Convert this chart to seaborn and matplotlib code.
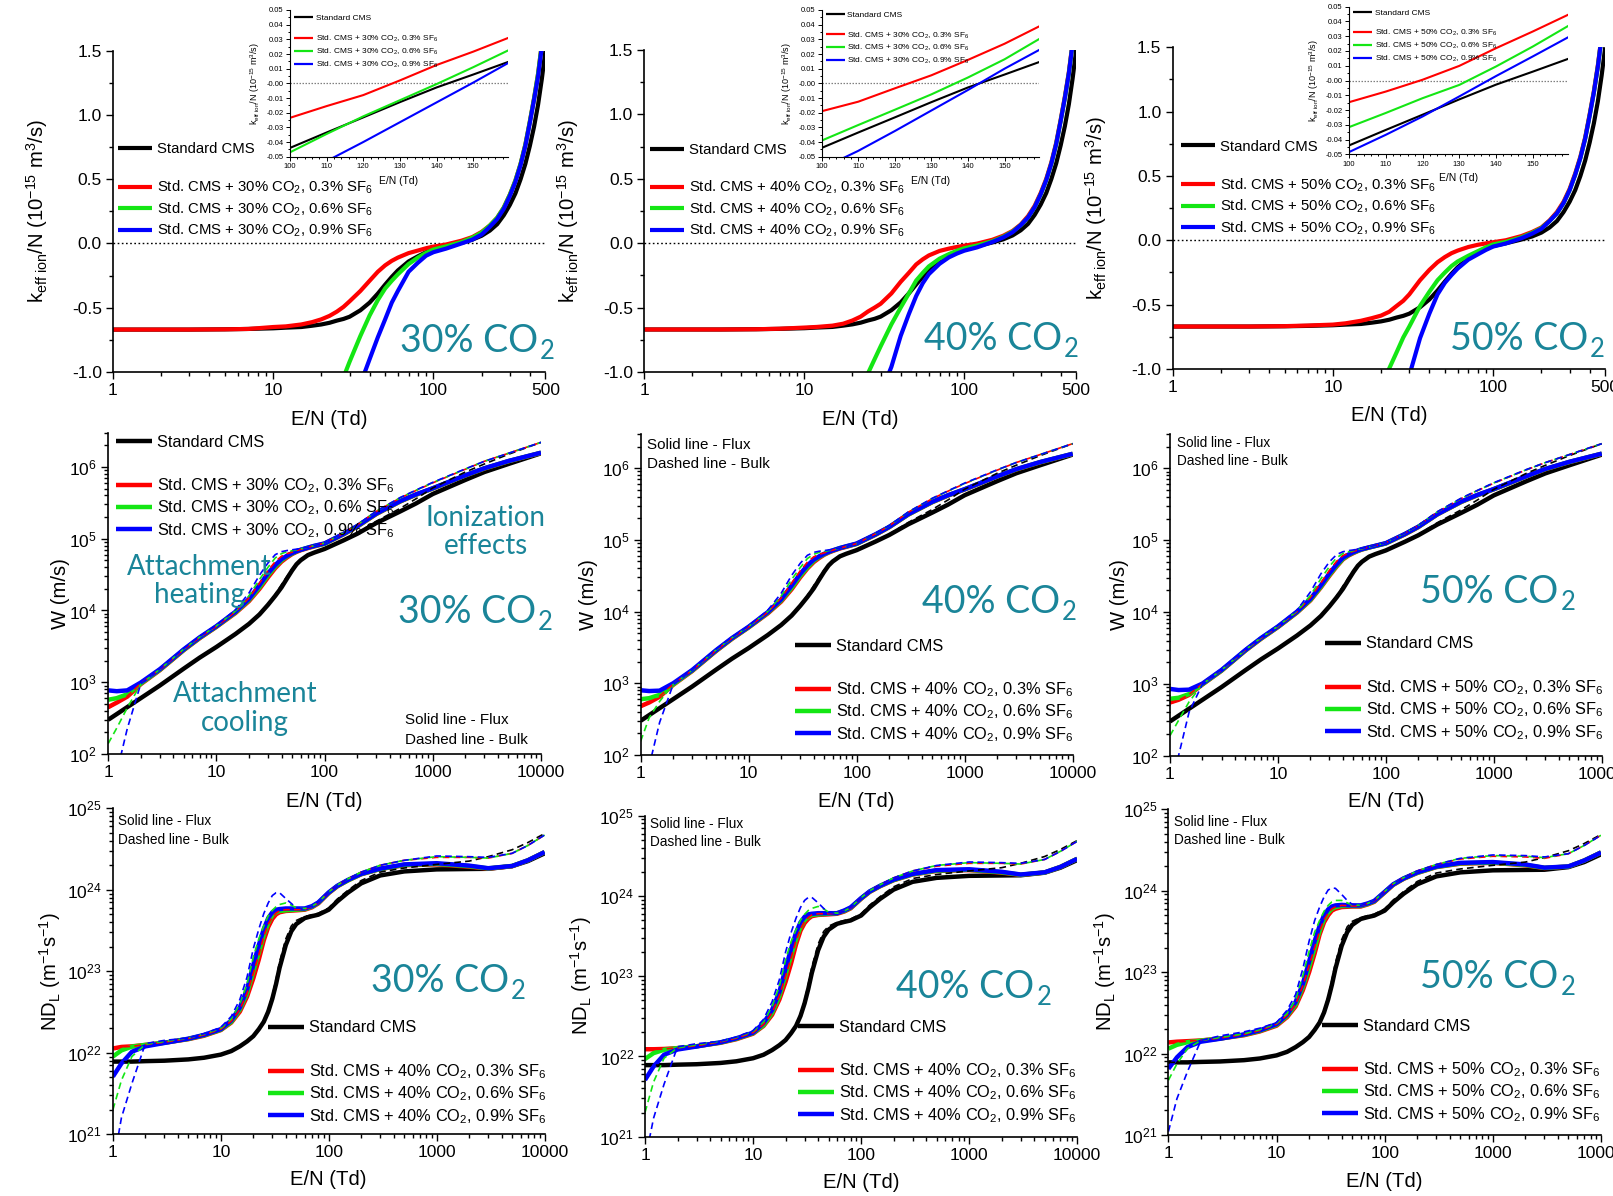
import numpy as np
import matplotlib
matplotlib.use("Agg")
import matplotlib.pyplot as plt
import seaborn as sns
from matplotlib.lines import Line2D
from matplotlib.text import Annotation
from matplotlib.ticker import MultipleLocator, FormatStrFormatter, LogLocator, NullFormatter

nan = np.nan

# ---------------------------------------------------------------- data
# effective ionisation rate coefficient k_eff/N (1e-15 m^3/s) vs E/N (Td)
EN_K = [1, 3, 5, 7, 10, 12, 15, 17.5, 20, 22.5, 25, 27.5, 30, 35, 40, 45, 50, 55, 60, 70,
        80, 90, 100, 120, 150, 175, 200, 225, 250, 275, 300, 325, 350, 375, 400, 425, 450, 475, 500]
std_k = [-0.67, -0.67, -0.668, -0.665, -0.66, -0.655, -0.65, -0.64, -0.63, -0.617,
         -0.60, -0.587, -0.57, -0.52, -0.46, -0.39, -0.32, -0.26, -0.21, -0.14,
         -0.10, -0.068, -0.044, -0.023, 0.006, 0.03, 0.06, 0.10, 0.15, 0.22,
         0.30, 0.39, 0.50, 0.62, 0.76, 0.91, 1.08, 1.28, 1.50]
k30_red = [-0.67, -0.67, -0.668, -0.665, -0.65, -0.645, -0.63, -0.612, -0.59, -0.563,
           -0.53, -0.493, -0.45, -0.37, -0.29, -0.22, -0.17, -0.135, -0.11, -0.075,
           -0.055, -0.037, -0.024, -0.008, 0.022, 0.05, 0.09, 0.14, 0.20, 0.28,
           0.38, 0.49, 0.62, 0.77, 0.95, 1.13, 1.32, 1.55, 1.80]
k30_green = [nan, nan, nan, nan, nan, nan, nan, nan, -1.5, -1.33,
             -1.18, -1.04, -0.92, -0.72, -0.56, -0.44, -0.35, -0.29, -0.24, -0.16,
             -0.11, -0.073, -0.047, -0.0225, 0.011, 0.045, 0.085, 0.14, 0.20, 0.28,
             0.38, 0.49, 0.62, 0.77, 0.95, 1.13, 1.32, 1.55, 1.80]
k30_blue = [nan, nan, nan, nan, nan, nan, nan, nan, nan, nan,
            -1.58, -1.44, -1.32, -1.095, -0.90, -0.73, -0.59, -0.46, -0.37, -0.22,
            -0.15, -0.095, -0.068, -0.040, 0.0005, 0.03, 0.07, 0.13, 0.19, 0.27,
            0.37, 0.48, 0.61, 0.76, 0.94, 1.12, 1.30, 1.53, 1.78]
k40_red = [-0.67, -0.67, -0.668, -0.664, -0.655, -0.65, -0.64, -0.625, -0.60, -0.57,
           -0.53, -0.50, -0.47, -0.39, -0.30, -0.23, -0.165, -0.125, -0.095, -0.060,
           -0.042, -0.029, -0.019, -0.0034, 0.027, 0.058, 0.095, 0.145, 0.21, 0.29,
           0.39, 0.50, 0.63, 0.78, 0.96, 1.14, 1.33, 1.56, 1.82]
k40_green = [nan, nan, nan, nan, nan, nan, nan, nan, -1.35, -1.16,
             -1.01, -0.90, -0.80, -0.63, -0.50, -0.39, -0.29, -0.23, -0.18, -0.12,
             -0.085, -0.058, -0.039, -0.018, 0.016, 0.05, 0.09, 0.14, 0.20, 0.28,
             0.38, 0.49, 0.62, 0.77, 0.95, 1.13, 1.32, 1.55, 1.80]
k40_blue = [nan, nan, nan, nan, nan, nan, nan, nan, nan, nan,
            -1.45, -1.30, -1.17, -0.96, -0.72, -0.55, -0.41, -0.31, -0.24, -0.16,
            -0.11, -0.08, -0.058, -0.0325, 0.010, 0.045, 0.085, 0.14, 0.20, 0.28,
            0.38, 0.49, 0.62, 0.77, 0.95, 1.13, 1.32, 1.55, 1.80]
k50_red = [-0.67, -0.67, -0.667, -0.662, -0.655, -0.645, -0.625, -0.605, -0.585, -0.555,
           -0.51, -0.47, -0.42, -0.31, -0.23, -0.17, -0.13, -0.10, -0.08, -0.052,
           -0.035, -0.024, -0.0147, 0.0005, 0.033, 0.065, 0.10, 0.155, 0.22, 0.30,
           0.40, 0.52, 0.65, 0.80, 0.98, 1.16, 1.36, 1.59, 1.85]
k50_green = [nan, nan, nan, nan, nan, nan, nan, nan, -1.13, -0.995,
             -0.87, -0.755, -0.67, -0.51, -0.40, -0.31, -0.25, -0.20, -0.165, -0.12,
             -0.085, -0.055, -0.032, -0.012, 0.023, 0.058, 0.095, 0.15, 0.21, 0.29,
             0.39, 0.51, 0.64, 0.79, 0.97, 1.15, 1.35, 1.58, 1.84]
k50_blue = [nan, nan, nan, nan, nan, nan, nan, nan, nan, nan,
            -1.38, -1.21, -1.05, -0.76, -0.57, -0.42, -0.33, -0.27, -0.22, -0.15,
            -0.11, -0.075, -0.0485, -0.0244, 0.0163, 0.052, 0.09, 0.15, 0.21, 0.29,
            0.39, 0.51, 0.64, 0.79, 0.97, 1.15, 1.35, 1.58, 1.84]

# zoom on the zero crossing, 100-160 Td
EN_IN = [100, 110, 120, 130, 140, 150, 160]
std_in = [-0.044, -0.0335, -0.0232, -0.0128, -0.0028, 0.0060, 0.0150]
in30_red = [-0.0235, -0.0155, -0.0080, 0.0020, 0.0125, 0.0216, 0.0314]
in30_green = [-0.047, -0.0345, -0.0225, -0.0115, -0.0005, 0.011, 0.023]
in30_blue = [-0.064, -0.053, -0.040, -0.0265, -0.013, 0.0005, 0.0145]
in40_red = [-0.019, -0.0125, -0.0034, 0.0055, 0.016, 0.027, 0.0395]
in40_green = [-0.039, -0.0284, -0.018, -0.0075, 0.004, 0.0164, 0.031]
in40_blue = [-0.058, -0.046, -0.0325, -0.0185, -0.0045, 0.0100, 0.0235]
in50_red = [-0.0147, -0.0075, 0.0005, 0.0099, 0.0219, 0.0332, 0.045]
in50_green = [-0.0316, -0.022, -0.012, -0.003, 0.0095, 0.023, 0.0375]
in50_blue = [-0.0485, -0.0368, -0.0244, -0.0108, 0.003, 0.0163, 0.0298]

# drift velocity W (m/s), flux (solid) and bulk (dashed)
EN_W = [1, 1.2, 1.5, 2, 3, 5, 7, 10, 15, 20, 25, 30, 35, 40, 45, 50, 55, 60, 70, 80,
        100, 150, 200, 300, 500, 700, 1000, 2000, 3000, 5000, 10000]
std_w = [300, 360, 450, 600, 900, 1550, 2200, 3100, 4700, 6500,
         8800, 12000, 16000, 21000, 28000, 36000, 44000, 50000, 59000, 64000,
         72000, 95000, 117000, 165000, 240000, 310000, 420000, 660000, 850000, 1100000, 1550000]
std_wb = [300, 360, 450, 600, 900, 1550, 2200, 3100, 4700, 6500,
          8900, 12300, 16800, 23000, 30000, 38000, 45000, 51000, 60000, 65000,
          73000, 97000, 120000, 175000, 265000, 360000, 510000, 850000, 1100000, 1500000, 2200000]
w30_red = [450, 520, 630, 940, 1470, 2800, 4100, 5900, 9200, 13500,
           20000, 29000, 39000, 48000, 55000, 61000, 65500, 69000, 74000, 78000,
           85000, 115000, 147000, 220000, 330000, 410000, 500000, 760000, 950000, 1200000, 1570000]
w30_green = [570, 600, 680, 960, 1490, 2830, 4150, 5960, 9400, 14000,
             21000, 31000, 41000, 50000, 57000, 62000, 66500, 70000, 75000, 79000,
             85000, 116000, 148000, 222000, 332000, 412000, 502000, 762000, 955000, 1205000, 1575000]
w30_blue = [770, 750, 770, 990, 1520, 2880, 4220, 6050, 9600, 14500,
            22500, 33000, 43000, 52000, 58000, 63000, 67000, 70000, 75000, 79500,
            86000, 117000, 150000, 224000, 335000, 415000, 505000, 765000, 960000, 1210000, 1580000]
w30_red_b = [430, 510, 640, 960, 1500, 2850, 4200, 6000, 9600, 15000,
             24000, 36000, 48000, 57000, 62000, 65000, 68000, 71000, 76000, 80000,
             87000, 120000, 155000, 240000, 370000, 470000, 600000, 930000, 1200000, 1550000, 2200000]
w30_green_b = [140, 230, 440, 940, 1510, 2900, 4250, 6100, 9800, 16000,
               27000, 40000, 54000, 62000, 66000, 68000, 70000, 72000, 76000, 80000,
               87000, 120000, 155000, 241000, 372000, 473000, 605000, 935000, 1200000, 1550000, 2200000]
w30_blue_b = [17, 55, 225, 950, 1530, 2950, 4330, 6200, 10200, 17500,
              31000, 46000, 60000, 66000, 68500, 70000, 71500, 73000, 76000, 80000,
              87000, 121000, 156000, 242000, 375000, 476000, 610000, 940000, 1200000, 1550000, 2200000]
w40_red = [480, 540, 650, 950, 1480, 2820, 4150, 6000, 9400, 13800,
           20500, 30000, 40000, 49000, 56000, 62000, 66500, 70000, 76000, 80000,
           88000, 118000, 150000, 225000, 335000, 415000, 505000, 765000, 960000, 1210000, 1580000]
w40_green = [600, 620, 690, 965, 1500, 2850, 4200, 6050, 9600, 14300,
             21500, 31500, 41500, 51000, 58000, 63000, 67500, 71000, 77000, 81000,
             88000, 119000, 151000, 226000, 337000, 418000, 508000, 768000, 965000, 1215000, 1585000]
w40_blue = [800, 780, 790, 1000, 1530, 2900, 4270, 6150, 9800, 14800,
            23000, 33500, 44000, 53000, 59000, 64000, 68000, 71500, 77000, 81500,
            89000, 120000, 152000, 228000, 340000, 420000, 510000, 770000, 970000, 1220000, 1590000]
w40_red_b = [460, 530, 660, 970, 1510, 2870, 4250, 6100, 9800, 15500,
             25000, 37000, 49000, 58000, 63000, 66000, 69000, 72000, 77000, 81000,
             89000, 122000, 157000, 243000, 375000, 478000, 610000, 940000, 1200000, 1550000, 2200000]
w40_green_b = [155, 330, 560, 960, 1520, 2920, 4300, 6200, 10000, 16500,
               28000, 41000, 55000, 63000, 67000, 69000, 71000, 73000, 77000, 81000,
               89000, 122000, 157000, 244000, 378000, 480000, 615000, 945000, 1200000, 1550000, 2200000]
w40_blue_b = [25, 70, 285, 960, 1540, 2980, 4380, 6300, 10400, 18000,
              32000, 47000, 61000, 67000, 69500, 71000, 72500, 74000, 77000, 81000,
              89000, 123000, 158000, 245000, 380000, 483000, 620000, 950000, 1200000, 1550000, 2200000]
w50_red = [550, 600, 700, 980, 1520, 2900, 4250, 6150, 9800, 14500,
           22000, 32000, 43000, 54000, 61000, 66000, 70500, 74000, 79000, 83000,
           90000, 120000, 152000, 228000, 340000, 420000, 510000, 770000, 970000, 1220000, 1590000]
w50_green = [620, 640, 720, 990, 1530, 2920, 4290, 6200, 9900, 14800,
             22500, 33000, 44000, 55000, 62000, 67000, 71000, 74500, 79000, 83000,
             90000, 121000, 153000, 229000, 342000, 422000, 512000, 772000, 975000, 1225000, 1595000]
w50_blue = [850, 820, 830, 1010, 1560, 2960, 4360, 6300, 10100, 15300,
            23500, 34500, 46000, 57000, 63000, 68000, 72000, 75000, 79500, 83500,
            91000, 122000, 154000, 230000, 345000, 425000, 515000, 775000, 980000, 1230000, 1600000]
w50_red_b = [530, 590, 710, 1000, 1550, 2950, 4330, 6250, 10100, 16000,
             25500, 38000, 51000, 61000, 66000, 70000, 73000, 76000, 80000, 84000,
             92000, 125000, 160000, 247000, 380000, 485000, 620000, 950000, 1200000, 1550000, 2200000]
w50_green_b = [190, 310, 560, 990, 1560, 2980, 4400, 6350, 10300, 17000,
               29000, 43000, 57000, 65000, 69000, 71500, 74000, 76000, 80000, 84000,
               92000, 125000, 160000, 248000, 382000, 488000, 625000, 955000, 1200000, 1550000, 2200000]
w50_blue_b = [32, 100, 400, 1000, 1580, 3050, 4480, 6450, 10600, 19000,
              34000, 50000, 63000, 69000, 71500, 73000, 75000, 77000, 80500, 84500,
              92000, 126000, 161000, 249000, 385000, 490000, 630000, 960000, 1200000, 1550000, 2200000]

# longitudinal diffusion ND_L (1/(m s)), flux (solid) and bulk (dashed)
EN_D = [1, 1.2, 1.5, 2, 3, 5, 7, 10, 12.5, 15, 17.5, 20, 22.5, 25, 27.5, 30, 32.5, 35, 40, 45,
        50, 60, 70, 80, 100, 120, 150, 200, 300, 500, 1000, 2000, 3000, 5000, 7000, 10000]
std_d = [7.8e21, 7.8e21, 7.8e21, 7.9e21, 8.0e21, 8.3e21, 8.7e21, 9.5e21, 1.05e22, 1.2e22,
         1.38e22, 1.6e22, 1.95e22, 2.4e22, 3.2e22, 4.6e22, 7.0e22, 1.1e23, 2.1e23, 3.1e23,
         3.8e23, 4.5e23, 4.75e23, 4.95e23, 5.7e23, 7.2e23, 9.2e23, 1.2e24, 1.5e24, 1.68e24,
         1.78e24, 1.8e24, 1.81e24, 1.95e24, 2.25e24, 2.8e24]
std_db = [7.8e21, 7.8e21, 7.8e21, 7.9e21, 8.0e21, 8.3e21, 8.7e21, 9.5e21, 1.05e22, 1.2e22,
          1.38e22, 1.6e22, 1.97e22, 2.5e22, 3.4e22, 5.0e22, 8.0e22, 1.3e23, 2.5e23, 3.6e23,
          4.2e23, 4.7e23, 4.95e23, 5.15e23, 6.0e23, 7.7e23, 9.8e23, 1.3e24, 1.65e24, 1.85e24,
          2.05e24, 2.25e24, 2.55e24, 3.1e24, 3.8e24, 4.9e24]
d30_red = [1.13e22, 1.18e22, 1.2e22, 1.25e22, 1.33e22, 1.47e22, 1.62e22, 1.9e22, 2.35e22, 3.2e22,
           4.9e22, 8.2e22, 1.4e23, 2.4e23, 3.5e23, 4.4e23, 5.0e23, 5.3e23, 5.5e23, 5.55e23,
           5.6e23, 5.7e23, 6.1e23, 6.8e23, 9.1e23, 1.1e24, 1.3e24, 1.55e24, 1.8e24, 2.0e24,
           2.05e24, 1.92e24, 1.82e24, 1.95e24, 2.3e24, 2.9e24]
d30_green = [9.0e21, 1.07e22, 1.19e22, 1.25e22, 1.33e22, 1.48e22, 1.64e22, 1.92e22, 2.4e22, 3.4e22,
             5.4e22, 1.0e23, 1.7e23, 2.8e23, 3.9e23, 4.9e23, 5.3e23, 5.5e23, 5.6e23, 5.65e23,
             5.7e23, 5.8e23, 6.2e23, 6.9e23, 9.2e23, 1.11e24, 1.3e24, 1.56e24, 1.8e24, 2.02e24,
             2.08e24, 1.95e24, 1.83e24, 1.96e24, 2.3e24, 2.9e24]
d30_blue = [5.1e21, 7.4e21, 1.03e22, 1.2e22, 1.32e22, 1.49e22, 1.66e22, 1.95e22, 2.5e22, 3.6e22,
            6.0e22, 1.2e23, 2.1e23, 3.3e23, 4.5e23, 5.3e23, 5.7e23, 5.8e23, 5.9e23, 5.9e23,
            5.9e23, 5.9e23, 6.3e23, 7.0e23, 9.3e23, 1.12e24, 1.32e24, 1.57e24, 1.82e24, 2.05e24,
            2.12e24, 1.98e24, 1.84e24, 1.96e24, 2.3e24, 2.9e24]
d30_red_b = [1.13e22, 1.18e22, 1.2e22, 1.26e22, 1.35e22, 1.5e22, 1.66e22, 1.95e22, 2.45e22, 3.4e22,
             5.4e22, 9.5e22, 1.6e23, 2.7e23, 3.8e23, 4.6e23, 5.2e23, 5.5e23, 5.7e23, 5.7e23,
             5.7e23, 5.8e23, 6.2e23, 6.9e23, 9.4e23, 1.14e24, 1.36e24, 1.65e24, 2.0e24, 2.3e24,
             2.5e24, 2.5e24, 2.45e24, 2.8e24, 3.5e24, 4.7e24]
d30_green_b = [2.0e21, 4.6e21, 9.0e21, 1.27e22, 1.38e22, 1.52e22, 1.7e22, 2.0e22, 2.6e22, 4.0e22,
               7.0e22, 1.5e23, 2.5e23, 3.6e23, 4.8e23, 5.6e23, 6.2e23, 6.6e23, 6.9e23, 6.5e23,
               6.0e23, 5.9e23, 6.3e23, 7.0e23, 9.4e23, 1.14e24, 1.36e24, 1.65e24, 2.0e24, 2.3e24,
               2.55e24, 2.5e24, 2.45e24, 2.8e24, 3.5e24, 4.7e24]
d30_blue_b = [4.0e20, 1.6e21, 4.2e21, 1.3e22, 1.42e22, 1.52e22, 1.72e22, 2.05e22, 2.8e22, 4.5e22,
              8.5e22, 1.9e23, 3.3e23, 5.1e23, 6.9e23, 8.5e23, 9.2e23, 9.2e23, 7.8e23, 6.8e23,
              6.0e23, 5.9e23, 6.3e23, 7.0e23, 9.4e23, 1.14e24, 1.36e24, 1.65e24, 2.0e24, 2.3e24,
              2.6e24, 2.55e24, 2.5e24, 2.8e24, 3.5e24, 4.7e24]
d40_red = [1.23e22, 1.23e22, 1.24e22, 1.27e22, 1.34e22, 1.48e22, 1.64e22, 1.92e22, 2.4e22, 3.3e22,
           5.1e22, 8.5e22, 1.45e23, 2.5e23, 3.7e23, 4.6e23, 5.2e23, 5.6e23, 5.8e23, 5.85e23,
           5.9e23, 6.0e23, 6.4e23, 7.0e23, 9.2e23, 1.12e24, 1.32e24, 1.57e24, 1.85e24, 2.05e24,
           2.1e24, 1.95e24, 1.83e24, 1.96e24, 2.3e24, 2.9e24]
d40_green = [9.3e21, 1.1e22, 1.21e22, 1.27e22, 1.34e22, 1.49e22, 1.66e22, 1.95e22, 2.45e22, 3.5e22,
             5.6e22, 1.05e23, 1.8e23, 2.9e23, 4.1e23, 5.0e23, 5.5e23, 5.8e23, 5.9e23, 5.95e23,
             6.0e23, 6.1e23, 6.5e23, 7.1e23, 9.3e23, 1.13e24, 1.33e24, 1.58e24, 1.86e24, 2.07e24,
             2.12e24, 1.97e24, 1.84e24, 1.96e24, 2.3e24, 2.9e24]
d40_blue = [5.1e21, 7.5e21, 1.05e22, 1.22e22, 1.33e22, 1.5e22, 1.68e22, 1.98e22, 2.6e22, 3.8e22,
            6.3e22, 1.25e23, 2.2e23, 3.5e23, 4.7e23, 5.5e23, 5.9e23, 6.0e23, 6.1e23, 6.1e23,
            6.1e23, 6.1e23, 6.6e23, 7.2e23, 9.4e23, 1.14e24, 1.34e24, 1.6e24, 1.88e24, 2.1e24,
            2.15e24, 2.0e24, 1.85e24, 1.97e24, 2.3e24, 2.9e24]
d40_red_b = [1.2e22, 1.22e22, 1.24e22, 1.28e22, 1.36e22, 1.52e22, 1.69e22, 1.98e22, 2.5e22, 3.5e22,
             5.7e22, 1.0e23, 1.7e23, 2.8e23, 3.9e23, 4.8e23, 5.4e23, 5.8e23, 6.0e23, 6.0e23,
             6.0e23, 6.1e23, 6.5e23, 7.1e23, 9.5e23, 1.16e24, 1.38e24, 1.68e24, 2.05e24, 2.35e24,
             2.55e24, 2.55e24, 2.5e24, 2.85e24, 3.6e24, 4.8e24]
d40_green_b = [2.0e21, 4.8e21, 9.5e21, 1.28e22, 1.4e22, 1.54e22, 1.73e22, 2.05e22, 2.7e22, 4.2e22,
               7.5e22, 1.6e23, 2.7e23, 3.8e23, 5.0e23, 5.9e23, 6.6e23, 7.0e23, 7.4e23, 6.9e23,
               6.3e23, 6.1e23, 6.5e23, 7.2e23, 9.5e23, 1.16e24, 1.38e24, 1.68e24, 2.05e24, 2.4e24,
               2.6e24, 2.55e24, 2.5e24, 2.85e24, 3.6e24, 4.8e24]
d40_blue_b = [5.0e20, 1.7e21, 4.5e21, 1.32e22, 1.44e22, 1.55e22, 1.75e22, 2.1e22, 2.9e22, 4.8e22,
              9.0e22, 2.0e23, 3.5e23, 5.3e23, 7.2e23, 8.8e23, 9.6e23, 9.6e23, 8.2e23, 7.0e23,
              6.2e23, 6.1e23, 6.5e23, 7.2e23, 9.5e23, 1.16e24, 1.38e24, 1.68e24, 2.05e24, 2.4e24,
              2.65e24, 2.6e24, 2.55e24, 2.85e24, 3.6e24, 4.8e24]
d50_red = [1.37e22, 1.4e22, 1.42e22, 1.45e22, 1.53e22, 1.68e22, 1.87e22, 2.2e22, 2.8e22, 3.8e22,
           6.0e22, 1.0e23, 1.7e23, 2.9e23, 4.1e23, 5.0e23, 5.7e23, 6.0e23, 6.3e23, 6.35e23,
           6.4e23, 6.4e23, 6.8e23, 7.3e23, 9.5e23, 1.18e24, 1.4e24, 1.65e24, 1.95e24, 2.15e24,
           2.2e24, 2.05e24, 1.9e24, 1.98e24, 2.35e24, 2.95e24]
d50_green = [1.15e22, 1.28e22, 1.38e22, 1.44e22, 1.53e22, 1.7e22, 1.9e22, 2.25e22, 2.9e22, 4.0e22,
             6.6e22, 1.15e23, 2.0e23, 3.2e23, 4.5e23, 5.4e23, 6.0e23, 6.3e23, 6.5e23, 6.5e23,
             6.5e23, 6.5e23, 6.9e23, 7.4e23, 9.6e23, 1.19e24, 1.41e24, 1.66e24, 1.96e24, 2.17e24,
             2.22e24, 2.07e24, 1.91e24, 1.98e24, 2.35e24, 2.95e24]
d50_blue = [6.5e21, 9.0e21, 1.2e22, 1.4e22, 1.52e22, 1.72e22, 1.93e22, 2.3e22, 3.0e22, 4.3e22,
            7.2e22, 1.35e23, 2.4e23, 3.7e23, 5.0e23, 5.9e23, 6.4e23, 6.6e23, 6.7e23, 6.65e23,
            6.6e23, 6.6e23, 7.0e23, 7.5e23, 9.7e23, 1.2e24, 1.42e24, 1.68e24, 1.98e24, 2.2e24,
            2.25e24, 2.1e24, 1.92e24, 1.99e24, 2.35e24, 2.95e24]
d50_red_b = [1.35e22, 1.38e22, 1.42e22, 1.46e22, 1.55e22, 1.72e22, 1.92e22, 2.3e22, 2.95e22, 4.0e22,
             6.8e22, 1.2e23, 2.0e23, 3.2e23, 4.4e23, 5.3e23, 6.0e23, 6.3e23, 6.6e23, 6.55e23,
             6.5e23, 6.5e23, 7.0e23, 7.5e23, 9.8e23, 1.22e24, 1.45e24, 1.75e24, 2.1e24, 2.45e24,
             2.65e24, 2.6e24, 2.5e24, 2.85e24, 3.6e24, 4.8e24]
d50_green_b = [4.7e21, 7.5e21, 1.15e22, 1.45e22, 1.58e22, 1.75e22, 1.97e22, 2.35e22, 3.1e22, 4.6e22,
               9.0e22, 1.8e23, 3.1e23, 4.3e23, 5.6e23, 6.6e23, 7.3e23, 7.6e23, 7.6e23, 7.1e23,
               6.7e23, 6.6e23, 7.0e23, 7.6e23, 9.8e23, 1.22e24, 1.45e24, 1.75e24, 2.1e24, 2.5e24,
               2.7e24, 2.65e24, 2.55e24, 2.85e24, 3.6e24, 4.8e24]
d50_blue_b = [1.1e21, 2.8e21, 6.0e21, 1.45e22, 1.65e22, 1.85e22, 2.05e22, 2.4e22, 3.4e22, 5.3e22,
              1.1e23, 2.4e23, 4.3e23, 6.3e23, 8.4e23, 1.02e24, 1.08e24, 1.07e24, 9.0e23, 7.6e23,
              6.8e23, 6.6e23, 7.0e23, 7.6e23, 9.8e23, 1.22e24, 1.45e24, 1.75e24, 2.1e24, 2.5e24,
              2.75e24, 2.7e24, 2.6e24, 2.85e24, 3.6e24, 4.8e24]

# legend / annotation text
STD_LABEL = "Standard CMS"
SF6 = ["0.3", "0.6", "0.9"]
top_pcts = ["30", "40", "50"]
inset_pcts = ["30", "30", "50"]
mid_pcts = ["30", "40", "50"]
bottom_pcts = ["40", "40", "50"]
panel_pcts = ["30", "40", "50"]
FLUX_TXT = "Solid line - Flux"
BULK_TXT = "Dashed line - Bulk"


def mix_labels(pct):
    return [rf"Std. CMS + {pct}% CO$_2$, {s}% SF$_6$" for s in SF6]


# ---------------------------------------------------------------- style
sns.set_theme(style="ticks")
plt.rcParams["font.family"] = ["Liberation Sans", "DejaVu Sans"]
plt.rcParams["mathtext.fontset"] = "custom"
plt.rcParams["mathtext.rm"] = "Liberation Sans"
plt.rcParams["mathtext.it"] = "Liberation Sans:italic"
plt.rcParams["mathtext.bf"] = "Liberation Sans:bold"
plt.rcParams["axes.unicode_minus"] = False
plt.rcParams["axes.edgecolor"] = "black"
plt.rcParams["xtick.color"] = "black"
plt.rcParams["ytick.color"] = "black"
plt.rcParams["text.color"] = "black"
plt.rcParams["axes.labelcolor"] = "black"
plt.rcParams["lines.solid_joinstyle"] = "round"
plt.rcParams["lines.solid_capstyle"] = "butt"

BLACK, RED, GREEN, BLUE = "#000000", "#ff0000", "#14e614", "#0000ff"
TEAL = "#1a8599"
TEAL_FONT = ["Lato", "DejaVu Sans"]
DASH = (0, (4, 2.5))

W_PX, H_PX = 1613, 1196
fig = plt.figure(figsize=(W_PX / 100, H_PX / 100), dpi=100)
fig.patch.set_facecolor("white")


def fpt(x, y):
    return (x / W_PX, 1 - y / H_PX)


def make_axes(box):
    x0, y0, x1, y1 = box
    ax = fig.add_axes([x0 / W_PX, 1 - y1 / H_PX, (x1 - x0) / W_PX, (y1 - y0) / H_PX])
    ax.set_facecolor("none")
    sns.despine(ax=ax)
    for s in ("left", "bottom"):
        ax.spines[s].set_linewidth(1.2)
    return ax


def style_ticks(ax, fs, major=5, minor=3, width=1.0, pad=3):
    ax.tick_params(which="both", direction="out", width=width, labelsize=fs, pad=pad)
    ax.tick_params(which="major", length=major)
    ax.tick_params(which="minor", length=minor)


def curve(ax, x, y, color, lw, dashed=False):
    sns.lineplot(x=x, y=y, ax=ax, color=color, linewidth=lw, estimator=None, sort=False,
                 linestyle=DASH if dashed else "-", legend=False)


def labels(ax, box, xlabel, ylabel, x_cy, y_cx, fs):
    x0, y0, x1, y1 = box
    half = fs * 100 / 72 * 0.62
    ax.set_xlabel(xlabel, fontsize=fs)
    ax.set_ylabel(ylabel, fontsize=fs)
    ax.xaxis.set_label_coords(0.5, -((x_cy - half) - y1) / (y1 - y0))
    ax.yaxis.set_label_coords(-(x0 - (y_cx + half)) / (x1 - x0), 0.5)


def legends(ax, black_xy, mix_xy, mix_text, fs, lw, spacing, hl=2.3):
    common = dict(loc="center left", bbox_transform=fig.transFigure, frameon=False,
                  fontsize=fs, handlelength=hl, handletextpad=0.3, borderpad=0,
                  borderaxespad=0)
    lg = ax.legend([Line2D([], [], color=BLACK, lw=lw)], [STD_LABEL],
                   bbox_to_anchor=fpt(*black_xy), **common)
    ax.add_artist(lg)
    ax.legend([Line2D([], [], color=c, lw=lw) for c in (RED, GREEN, BLUE)], mix_text,
              bbox_to_anchor=fpt(*mix_xy), labelspacing=spacing, **common)


def co2_tag(pct, x, y, fs=27):
    t = fig.text(*fpt(x, y), f"{pct}% CO", color=TEAL, fontsize=fs, family=TEAL_FONT,
                 ha="left", va="baseline")
    fig.add_artist(Annotation("2", xy=(1, 0), xycoords=t, xytext=(1.5, 0),
                              textcoords="offset points", color=TEAL, fontsize=fs * 0.68,
                              family=TEAL_FONT, ha="left", va="baseline"))


def teal_note(text, x, y, fs=20, ls=1.12):
    fig.text(*fpt(x, y), text, color=TEAL, fontsize=fs, family=TEAL_FONT,
             ha="center", va="center", multialignment="center", linespacing=ls)


def flux_bulk(x, y1, y2, fs):
    fig.text(*fpt(x, y1), FLUX_TXT, fontsize=fs, ha="left", va="center")
    fig.text(*fpt(x, y2), BULK_TXT, fontsize=fs, ha="left", va="center")


# ---------------------------------------------------------------- top row: k_eff/N
K_YLABEL = r"k$_{\mathrm{eff\ ion}}$/N (10$^{-15}$ m$^3$/s)"
top_boxes = [(112.9, 50.7, 545.4, 372.0), (644.3, 50.0, 1076.2, 372.0),
             (1172.5, 47.3, 1605.2, 369.0)]
top_series = [(k30_red, k30_green, k30_blue), (k40_red, k40_green, k40_blue),
              (k50_red, k50_green, k50_blue)]
top_xlab_y = [423, 423, 419]
top_ylab_x = [37, 568, 1096]
top_leg = [((117.9, 149.0), (117.9, 209.0)), ((650.0, 150.0), (650.0, 209.0)),
           ((1181.0, 146.7), (1181.0, 206.7))]
top_tag = [(400.0, 352.0), (924.0, 350.0), (1449.8, 350.0)]

for i in range(3):
    box = top_boxes[i]
    ax = make_axes(box)
    ax.set_xscale("log")
    ax.set_xlim(1, 500)
    ax.set_ylim(-1.0, 1.5)
    ax.axhline(0, color="black", lw=1.0, ls=(0, (1.2, 1.8)), zorder=1)
    curve(ax, EN_K, std_k, BLACK, 3.0)
    for vals, col in zip(top_series[i], (RED, GREEN, BLUE)):
        curve(ax, EN_K, vals, col, 3.0)
    ax.set_xticks([1, 10, 100, 500])
    ax.set_xticklabels(["1", "10", "100", "500"])
    ax.xaxis.set_minor_locator(LogLocator(base=10, subs=np.arange(2, 10)))
    ax.xaxis.set_minor_formatter(NullFormatter())
    ax.yaxis.set_major_locator(MultipleLocator(0.5))
    ax.yaxis.set_minor_locator(MultipleLocator(0.25))
    ax.yaxis.set_major_formatter(FormatStrFormatter("%.1f"))
    style_ticks(ax, 12.5)
    labels(ax, box, "E/N (Td)", K_YLABEL, top_xlab_y[i], top_ylab_x[i], 14.6)
    legends(ax, top_leg[i][0], top_leg[i][1], mix_labels(top_pcts[i]), 10.7, 3.0, 0.28)
    co2_tag(panel_pcts[i], *top_tag[i])

# insets around the zero crossing
in_boxes = [(290.0, 10.0, 508.0, 156.7), (821.7, 10.0, 1039.3, 156.7),
            (1349.0, 6.7, 1567.7, 154.3)]
in_series = [(in30_red, in30_green, in30_blue), (in40_red, in40_green, in40_blue),
             (in50_red, in50_green, in50_blue)]
in_leg = [((294.0, 17.7), (294.0, 51.7)), ((825.7, 15.0), (825.7, 48.3)),
          ((1353.0, 13.3), (1353.0, 46.0))]
for i in range(3):
    box = in_boxes[i]
    ax = make_axes(box)
    ax.set_xlim(100, 159.5)
    ax.set_ylim(-0.05, 0.05)
    ax.axhline(0, color="#808080", lw=0.9, ls=(0, (1.2, 1.2)), zorder=1)
    curve(ax, EN_IN, std_in, BLACK, 1.5)
    for vals, col in zip(in_series[i], (RED, GREEN, BLUE)):
        curve(ax, EN_IN, vals, col, 1.5)
    ax.set_xticks([100, 110, 120, 130, 140, 150])
    ax.xaxis.set_minor_locator(MultipleLocator(2))
    ax.yaxis.set_major_locator(MultipleLocator(0.01))
    ax.yaxis.set_minor_locator(MultipleLocator(0.005))
    ax.yaxis.set_major_formatter(FormatStrFormatter("%.2f"))
    for s in ("left", "bottom"):
        ax.spines[s].set_linewidth(0.8)
    style_ticks(ax, 5.5, major=3, minor=1.6, width=0.7, pad=1.5)
    ax.set_xlabel("E/N (Td)", fontsize=7.5, labelpad=4)
    ax.set_ylabel(K_YLABEL, fontsize=6.5, labelpad=3)
    legends(ax, in_leg[i][0], in_leg[i][1], mix_labels(inset_pcts[i]), 6.0, 1.6, 0.32, hl=2.3)

# ---------------------------------------------------------------- middle row: W
mid_boxes = [(108.2, 432.7, 541.0, 754.0), (640.6, 434.0, 1072.7, 755.0),
             (1170.0, 434.0, 1601.8, 755.7)]
mid_series = [(w30_red, w30_green, w30_blue, w30_red_b, w30_green_b, w30_blue_b),
              (w40_red, w40_green, w40_blue, w40_red_b, w40_green_b, w40_blue_b),
              (w50_red, w50_green, w50_blue, w50_red_b, w50_green_b, w50_blue_b)]
mid_ylab_x = [57, 585, 1116]
mid_leg = [((116.0, 442.7), (116.0, 508.0)), ((794.8, 646.7), (794.8, 712.0)),
           ((1325.4, 644.0), (1325.4, 710.0))]
mid_tag = [(398.0, 623.0), (921.5, 613.0), (1420.0, 603.0)]
mid_fb = [(405.0, 720.0, 740.0, 10.9), (646.7, 445.0, 464.0, 10.9), (1177.0, 443.0, 461.0, 9.8)]

for i in range(3):
    box = mid_boxes[i]
    ax = make_axes(box)
    ax.set_xscale("log")
    ax.set_yscale("log")
    ax.set_xlim(1, 10000)
    ax.set_ylim(100, 3e6)
    r, g, b, rb, gb, bb = mid_series[i]
    curve(ax, EN_W, std_w, BLACK, 3.2)
    curve(ax, EN_W, r, RED, 3.2)
    curve(ax, EN_W, g, GREEN, 3.2)
    curve(ax, EN_W, b, BLUE, 3.2)
    curve(ax, EN_W, std_wb, BLACK, 1.2, dashed=True)
    curve(ax, EN_W, rb, RED, 1.2, dashed=True)
    curve(ax, EN_W, gb, GREEN, 1.2, dashed=True)
    curve(ax, EN_W, bb, BLUE, 1.2, dashed=True)
    ax.set_xticks([1, 10, 100, 1000, 10000])
    ax.set_xticklabels(["1", "10", "100", "1000", "10000"])
    ax.xaxis.set_minor_locator(LogLocator(base=10, subs=np.arange(2, 10)))
    ax.xaxis.set_minor_formatter(NullFormatter())
    ax.set_yticks([1e2, 1e3, 1e4, 1e5, 1e6])
    ax.yaxis.set_minor_locator(LogLocator(base=10, subs=np.arange(2, 10), numticks=20))
    ax.yaxis.set_minor_formatter(NullFormatter())
    style_ticks(ax, 12.5)
    labels(ax, box, "E/N (Td)", "W (m/s)", 804.6, mid_ylab_x[i], 14.6)
    legends(ax, mid_leg[i][0], mid_leg[i][1], mix_labels(mid_pcts[i]), 11.8, 3.2, 0.22, hl=2.2)
    co2_tag(panel_pcts[i], *mid_tag[i])
    fx, fy1, fy2, ffs = mid_fb[i]
    flux_bulk(fx, fy1, fy2, ffs)

teal_note("Ionization\neffects", 486, 532)
teal_note("Attachment\nheating", 199, 581)
teal_note("Attachment\ncooling", 245, 708.5)

# ---------------------------------------------------------------- bottom row: ND_L
bot_boxes = [(112.9, 808.3, 544.6, 1134.3), (645.0, 815.7, 1077.2, 1136.7),
             (1168.4, 809.3, 1601.0, 1135.0)]
bot_series = [(d30_red, d30_green, d30_blue, d30_red_b, d30_green_b, d30_blue_b),
              (d40_red, d40_green, d40_blue, d40_red_b, d40_green_b, d40_blue_b),
              (d50_red, d50_green, d50_blue, d50_red_b, d50_green_b, d50_blue_b)]
bot_xlab_y = [1183, 1186, 1185]
bot_ylab_x = [50, 581, 1105]
bot_leg = [((268.0, 1028.0), (268.0, 1094.0)), ((798.0, 1027.7), (798.0, 1093.0)),
           ((1322.4, 1026.7), (1322.4, 1092.0))]
bot_tag = [(371.0, 991.7), (896.4, 998.0), (1420.0, 988.0)]
bot_fb = [(117.9, 821.0, 840.0), (650.0, 824.0, 842.0), (1173.5, 822.0, 840.0)]

for i in range(3):
    box = bot_boxes[i]
    ax = make_axes(box)
    ax.set_xscale("log")
    ax.set_yscale("log")
    ax.set_xlim(1, 10000)
    ax.set_ylim(1e21, 1e25)
    r, g, b, rb, gb, bb = bot_series[i]
    curve(ax, EN_D, std_d, BLACK, 3.2)
    curve(ax, EN_D, r, RED, 3.2)
    curve(ax, EN_D, g, GREEN, 3.2)
    curve(ax, EN_D, b, BLUE, 3.2)
    curve(ax, EN_D, std_db, BLACK, 1.2, dashed=True)
    curve(ax, EN_D, rb, RED, 1.2, dashed=True)
    curve(ax, EN_D, gb, GREEN, 1.2, dashed=True)
    curve(ax, EN_D, bb, BLUE, 1.2, dashed=True)
    ax.set_xticks([1, 10, 100, 1000, 10000])
    ax.set_xticklabels(["1", "10", "100", "1000", "10000"])
    ax.xaxis.set_minor_locator(LogLocator(base=10, subs=np.arange(2, 10)))
    ax.xaxis.set_minor_formatter(NullFormatter())
    ax.set_yticks([1e21, 1e22, 1e23, 1e24, 1e25])
    ax.yaxis.set_minor_locator(LogLocator(base=10, subs=np.arange(2, 10), numticks=20))
    ax.yaxis.set_minor_formatter(NullFormatter())
    style_ticks(ax, 12.5)
    labels(ax, box, "E/N (Td)", r"ND$_\mathrm{L}$ (m$^{-1}$s$^{-1}$)", bot_xlab_y[i],
           bot_ylab_x[i], 14.6)
    legends(ax, bot_leg[i][0], bot_leg[i][1], mix_labels(bottom_pcts[i]), 11.8, 3.2, 0.22, hl=2.2)
    co2_tag(panel_pcts[i], *bot_tag[i])
    fx, fy1, fy2 = bot_fb[i]
    flux_bulk(fx, fy1, fy2, 9.8)

fig.savefig("out.png", dpi=100, facecolor="white")
